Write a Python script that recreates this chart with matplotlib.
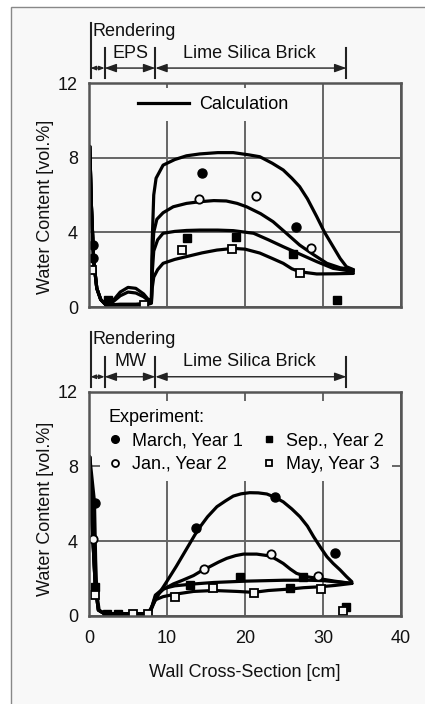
import matplotlib
matplotlib.use("Agg")
from matplotlib import pyplot as plt
from matplotlib.lines import Line2D
from matplotlib.patches import Rectangle

plt.rcParams["font.family"] = ["Liberation Sans", "DejaVu Sans"]
plt.rcParams["font.size"] = 13

BG = "#f8f8f8"

# --- upper wall: rendering / EPS / lime silica brick, calculated profiles
top_march_x = [0.1, 0.3, 0.6, 1.0, 1.5, 2.2, 3.0, 4.0, 5.0, 6.0, 7.0, 7.6, 8.0, 8.1, 8.3, 8.6,
               9.5, 11.0, 12.5, 14.2, 16.5, 18.5, 20.5, 21.9, 23.5, 24.9, 26.0, 27.0, 28.0,
               29.2, 30.2, 31.3, 32.2, 33.0, 33.9]
top_march_y = [8.6, 5.5, 2.5, 1.0, 0.4, 0.1, 0.3, 0.8, 1.05, 1.0, 0.7, 0.4, 0.4, 3.5, 6.0, 6.9,
               7.6, 7.9, 8.1, 8.2, 8.27, 8.27, 8.15, 8.05, 7.7, 7.34, 6.9, 6.45, 5.8,
               4.84, 4.0, 3.23, 2.6, 2.16, 2.0]
top_jan_x = [0.1, 0.3, 0.6, 1.0, 1.5, 2.2, 3.0, 4.0, 5.0, 6.0, 7.0, 7.6, 8.0, 8.1, 8.3, 8.7,
             9.5, 10.8, 12.5, 14.2, 16.0, 17.6, 19.0, 20.2, 22.0, 23.6, 25.3, 27.0, 28.8,
             30.5, 32.2, 33.9]
top_jan_y = [8.6, 5.5, 2.5, 1.0, 0.4, 0.1, 0.25, 0.6, 0.8, 0.75, 0.55, 0.35, 0.35, 2.5, 4.0, 4.7,
             5.05, 5.37, 5.55, 5.64, 5.7, 5.68, 5.55, 5.37, 5.0, 4.57, 3.95, 3.32, 2.8,
             2.34, 2.1, 2.0]
top_sep_x = [0.1, 0.3, 0.6, 1.0, 1.5, 2.2, 4.0, 6.0, 7.6, 8.0, 8.1, 8.3, 8.8, 9.5, 11.0, 12.5,
             14.2, 16.5, 18.5, 21.1, 23.0, 24.9, 27.0, 29.2, 31.3, 33.9]
top_sep_y = [8.6, 5.5, 2.5, 1.0, 0.4, 0.1, 0.15, 0.15, 0.2, 0.25, 1.8, 3.0, 3.6, 3.95, 4.05, 4.1,
             4.12, 4.12, 4.09, 3.95, 3.6, 3.23, 2.84, 2.43, 2.07, 1.9]
top_may_x = [0.1, 0.3, 0.6, 1.0, 1.5, 2.2, 4.0, 6.0, 7.6, 8.0, 8.1, 8.3, 8.8, 9.5, 11.0, 12.5,
             14.5, 16.4, 18.5, 20.0, 21.9, 23.5, 24.9, 26.0, 27.0, 29.2, 31.5, 33.9]
top_may_y = [8.6, 5.5, 2.5, 1.0, 0.4, 0.1, 0.1, 0.1, 0.15, 0.2, 1.0, 1.6, 2.0, 2.34, 2.55, 2.7,
             2.9, 3.05, 3.14, 3.1, 2.89, 2.6, 2.34, 2.05, 1.89, 1.77, 1.78, 1.8]

# measured points, upper wall
top_pts_march = ([0.55, 0.55, 14.5, 26.6], [3.32, 2.6, 7.2, 4.3])
top_pts_jan = ([14.1, 21.4, 28.5], [5.78, 5.95, 3.14])
top_pts_sep = ([2.45, 12.5, 18.9, 26.2, 31.8], [0.4, 3.7, 3.77, 2.84, 0.37])
top_pts_may = ([0.43, 7.05, 11.9, 18.3, 27.0], [1.97, 0.1, 3.05, 3.09, 1.8])

# --- lower wall: rendering / MW / lime silica brick
bot_march_x = [0.1, 0.7, 0.85, 1.0, 1.3, 2.0, 5.0, 7.6, 7.8, 9.0, 10.0, 11.2, 12.4, 13.6, 14.4,
               15.2, 16.4, 17.5, 18.5, 19.5, 20.6, 21.7, 22.8, 23.8, 24.9, 26.0, 27.05, 28.0,
               28.8, 29.7, 30.5, 31.3, 32.2, 33.0, 33.7]
bot_march_y = [8.5, 6.1, 3.0, 1.2, 0.3, 0.1, 0.1, 0.1, 0.3, 1.2, 1.85, 2.65, 3.5, 4.35, 4.85,
               5.3, 5.84, 6.15, 6.41, 6.53, 6.59, 6.58, 6.52, 6.35, 6.1, 5.72, 5.3, 4.8,
               4.23, 3.65, 3.16, 2.8, 2.45, 2.1, 1.82]
bot_jan_x = [0.1, 0.3, 0.5, 0.8, 1.2, 2.0, 5.0, 7.8, 8.0, 8.5, 9.5, 10.8, 12.0, 13.4, 14.6, 15.5,
             16.6, 17.65, 18.8, 19.8, 21.5, 23.2, 24.1, 24.9, 25.8, 26.6, 27.9, 29.6, 31.5, 33.7]
bot_jan_y = [8.5, 6.0, 4.1, 1.6, 0.3, 0.1, 0.1, 0.1, 0.4, 1.0, 1.4, 1.7, 1.9, 2.15, 2.45, 2.63,
             2.87, 3.07, 3.22, 3.3, 3.3, 3.2, 3.0, 2.8, 2.5, 2.27, 2.09, 1.98, 1.85, 1.73]
bot_sep_x = [0.1, 0.3, 0.5, 0.8, 1.2, 2.0, 5.0, 7.8, 8.0, 8.5, 9.5, 11.0, 13.4, 16.0, 20.0, 25.0,
             28.0, 30.0, 32.0, 33.7]
bot_sep_y = [8.5, 6.0, 4.1, 1.6, 0.3, 0.1, 0.1, 0.1, 0.4, 1.1, 1.45, 1.6, 1.7, 1.78, 1.85, 1.9,
             1.9, 1.88, 1.8, 1.73]
bot_may_x = [0.1, 0.3, 0.5, 0.8, 1.2, 2.0, 5.0, 7.8, 8.0, 8.5, 9.5, 11.0, 13.4, 16.0, 19.0, 21.1,
             23.0, 25.8, 27.5, 29.6, 31.5, 33.7]
bot_may_y = [8.5, 6.0, 4.1, 1.6, 0.3, 0.1, 0.1, 0.1, 0.35, 0.85, 1.02, 1.15, 1.3, 1.35, 1.3, 1.25,
             1.35, 1.43, 1.5, 1.55, 1.62, 1.73]

bot_pts_march = ([0.77, 13.7, 23.8, 31.6], [6.02, 4.71, 6.38, 3.38])
bot_pts_jan = ([0.47, 14.7, 23.3, 29.3], [4.11, 2.52, 3.29, 2.13])
bot_pts_sep = ([0.77, 2.27, 3.76, 12.95, 19.4, 25.8, 27.4, 33.0],
               [1.52, 0.1, 0.1, 1.64, 2.09, 1.47, 2.09, 0.45])
bot_pts_may = ([0.8, 5.7, 7.6, 11.0, 15.9, 21.1, 29.8, 32.6],
               [1.12, 0.1, 0.1, 1.02, 1.47, 1.2, 1.41, 0.25])

# layer boundaries [cm] drawn above each panel
bounds = [0.2, 2.0, 8.5, 33.0]
layer_names_top = ["EPS", "Lime Silica Brick"]
layer_names_bot = ["MW", "Lime Silica Brick"]

x_ticks = [0, 10, 20, 30, 40]
y_ticks = [0, 4, 8, 12]

march_style = dict(marker="o", ms=6.5, mfc="black", mec="black", ls="none")
jan_style = dict(marker="o", ms=6, mfc=BG, mec="black", mew=1.3, ls="none")
sep_style = dict(marker="s", ms=5.8, mfc="black", mec="black", ls="none")
may_style = dict(marker="s", ms=5.6, mfc=BG, mec="black", mew=1.3, ls="none")

fig = plt.figure(figsize=(4.25, 7.04), dpi=100)
fig.patch.set_facecolor("white")
fig.patches.append(Rectangle((11 / 425, -0.1), 1.2, 1.1 - 7 / 704, transform=fig.transFigure,
                             facecolor=BG, edgecolor="#888888", lw=1.0, zorder=-1))

ax_top = fig.add_axes([89 / 425, 1 - 307 / 704, 312 / 425, 224 / 704])
ax_bot = fig.add_axes([89 / 425, 1 - 615.7 / 704, 312 / 425, 224 / 704])


def style_axes(ax, show_x):
    ax.set_facecolor(BG)
    ax.set_xlim(0, 40)
    ax.set_ylim(0, 12)
    ax.set_xticks(x_ticks)
    ax.set_yticks(y_ticks)
    ax.tick_params(length=0, pad=8, labelsize=13, colors="#111111")
    ax.tick_params(axis="x", pad=10)
    if not show_x:
        ax.set_xticklabels([])
    ax.grid(True, color="#666666", lw=1.4)
    ax.set_axisbelow(True)
    for sp in ax.spines.values():
        sp.set_color("#555555")
        sp.set_linewidth(1.8)
    ax.set_ylabel("Water Content [vol.%]", fontsize=13, va="center", color="#111111")


def layer_header(ax, names):
    y_arrow = 12.8
    kw = dict(color="#222222", lw=1.5, clip_on=False)
    ax.plot([bounds[0], bounds[0]], [12.25, 15.2], **kw)
    for b in bounds[1:]:
        ax.plot([b, b], [12.25, 13.85], **kw)
    ax.annotate("", xy=(bounds[1], y_arrow), xytext=(bounds[0], y_arrow),
                arrowprops=dict(arrowstyle="<|-|>,head_length=0.5,head_width=0.2",
                                color="#222222", lw=1.0, mutation_scale=6,
                                shrinkA=0, shrinkB=0), annotation_clip=False)
    for a, b in zip(bounds[1:-1], bounds[2:]):
        ax.annotate("", xy=(b, y_arrow), xytext=(a, y_arrow),
                    arrowprops=dict(arrowstyle="<|-|>,head_length=0.5,head_width=0.18",
                                    color="#222222", lw=1.0, mutation_scale=14,
                                    shrinkA=0, shrinkB=0), annotation_clip=False)
    ax.text(0.5, 14.78, "Rendering", ha="left", va="center", fontsize=13, color="#111111")
    ax.text(5.3, 13.6, names[0], ha="center", va="center", fontsize=13, color="#111111")
    ax.text(20.6, 13.6, names[1], ha="center", va="center", fontsize=13, color="#111111")


style_axes(ax_top, False)
style_axes(ax_bot, True)
layer_header(ax_top, layer_names_top)
layer_header(ax_bot, layer_names_bot)

ax_top.yaxis.set_label_coords(-0.14, 0.448)
ax_bot.yaxis.set_label_coords(-0.14, 0.479)
ax_bot.set_xlabel("Wall Cross-Section [cm]", fontsize=13, va="center", color="#111111")
ax_bot.xaxis.set_label_coords(0.5, -57 / 224)

curve_kw = dict(color="black", lw=2.3, solid_capstyle="round", solid_joinstyle="round")

for xs, ys in [(top_march_x, top_march_y), (top_jan_x, top_jan_y),
               (top_sep_x, top_sep_y), (top_may_x, top_may_y)]:
    ax_top.plot(xs, ys, **curve_kw)
for pts, st in [(top_pts_march, march_style), (top_pts_jan, jan_style),
                (top_pts_sep, sep_style), (top_pts_may, may_style)]:
    ax_top.plot(pts[0], pts[1], **st)

for xs, ys in [(bot_march_x, bot_march_y), (bot_jan_x, bot_jan_y),
               (bot_sep_x, bot_sep_y), (bot_may_x, bot_may_y)]:
    ax_bot.plot(xs, ys, **curve_kw)
for pts, st in [(bot_pts_march, march_style), (bot_pts_jan, jan_style),
                (bot_pts_sep, sep_style), (bot_pts_may, may_style)]:
    ax_bot.plot(pts[0], pts[1], **st)

# legends
calc_handle = [Line2D([], [], color="black", lw=2.3)]
leg = ax_top.legend(calc_handle, ["Calculation"], loc="upper left",
                    bbox_to_anchor=(0.131, 0.978), borderaxespad=0, fontsize=13,
                    handlelength=2.85, handletextpad=0.55, borderpad=0.45,
                    frameon=True, facecolor=BG, edgecolor="none", framealpha=1,
                    fancybox=False)

exp_handles = [Line2D([], [], **dict(march_style, ms=5.5)),
               Line2D([], [], **dict(jan_style, ms=5)),
               Line2D([], [], **dict(sep_style, ms=5)),
               Line2D([], [], **dict(may_style, ms=5))]
exp_labels = ["March, Year 1", "Jan., Year 2", "Sep., Year 2", "May, Year 3"]
leg2 = ax_bot.legend(exp_handles, exp_labels, title="Experiment:", alignment="left",
                     ncol=2, loc="upper left", bbox_to_anchor=(0.035, 0.958),
                     borderaxespad=0, fontsize=13, title_fontsize=13,
                     handlelength=0.8, handletextpad=0.55, columnspacing=1.0,
                     labelspacing=0.35, borderpad=0.45, frameon=True, facecolor=BG,
                     edgecolor="none", framealpha=1, fancybox=False)

fig.savefig("out.png", dpi=100, facecolor=fig.get_facecolor())
